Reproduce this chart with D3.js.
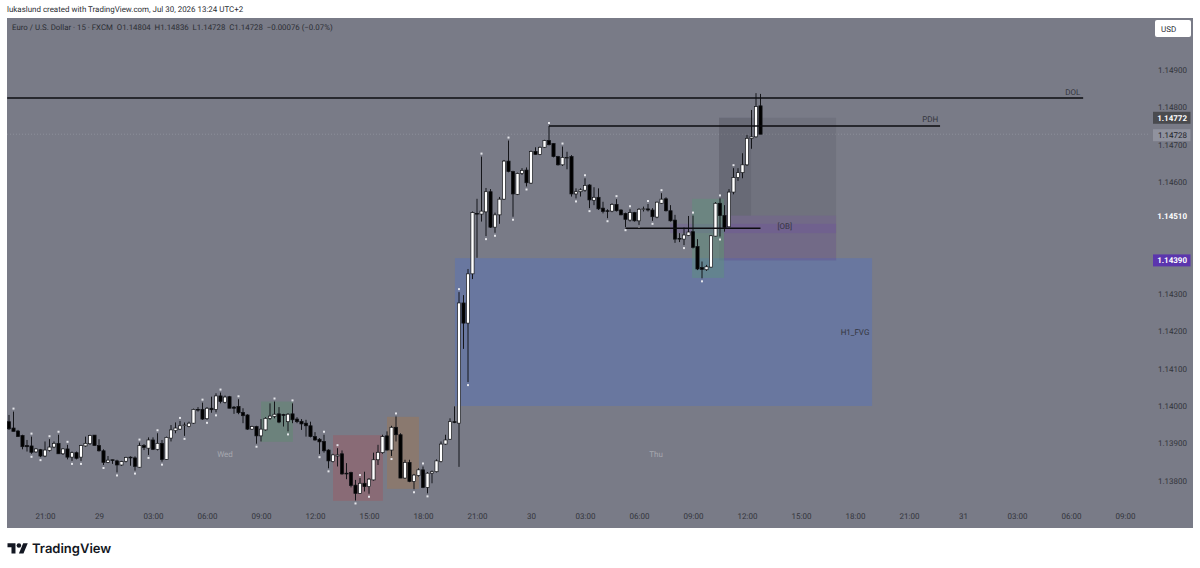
<!DOCTYPE html>
<html>
<head>
<meta charset="utf-8">
<script src="https://cdn.jsdelivr.net/npm/d3@7"></script>
<style>
	html, body { margin: 0; padding: 0; background: #ffffff; overflow: hidden; }
	svg { display: block; text-rendering: geometricPrecision; }
	text { font-family: Roboto, sans-serif; }
</style>
</head>
<body>
<svg id="chart" width="1200" height="568"></svg>
<script>
// EURUSD 15 min bars
const opens = [1.13958,1.13941,1.13933,1.13921,1.13894,1.13893,1.13877,1.13883,1.13866,1.13881,1.13890,1.13900,1.13872,1.13885,1.13863,1.13875,1.13863,1.13893,1.13899,1.13922,1.13894,1.13880,1.13849,1.13856,1.13853,1.13842,1.13852,1.13863,1.13861,1.13836,1.13894,1.13887,1.13909,1.13884,1.13900,1.13857,1.13914,1.13934,1.13938,1.13948,1.13945,1.13954,1.13991,1.13991,1.13966,1.13994,1.13991,1.14027,1.14010,1.14025,1.13997,1.13999,1.13983,1.13976,1.13938,1.13945,1.13920,1.13936,1.13967,1.13972,1.13979,1.13977,1.13958,1.13979,1.13965,1.13959,1.13954,1.13947,1.13918,1.13911,1.13905,1.13882,1.13851,1.13866,1.13872,1.13820,1.13822,1.13788,1.13766,1.13793,1.13784,1.13802,1.13856,1.13875,1.13920,1.13882,1.13943,1.13923,1.13807,1.13849,1.13798,1.13814,1.13829,1.13782,1.13820,1.13824,1.13851,1.13898,1.13911,1.13958,1.13954,1.14276,1.14222,1.14354,1.14516,1.14514,1.14520,1.14574,1.14479,1.14512,1.14554,1.14656,1.14628,1.14567,1.14623,1.14632,1.14597,1.14682,1.14674,1.14693,1.14711,1.14703,1.14668,1.14646,1.14664,1.14668,1.14568,1.14574,1.14578,1.14592,1.14551,1.14559,1.14530,1.14523,1.14522,1.14540,1.14525,1.14516,1.14498,1.14518,1.14496,1.14526,1.14528,1.14525,1.14506,1.14543,1.14555,1.14523,1.14498,1.14449,1.14447,1.14457,1.14467,1.14427,1.14371,1.14365,1.14372,1.14455,1.14543,1.14510,1.14480,1.14573,1.14612,1.14625,1.14646,1.14717,1.14721,1.14804];
const highs = [1.13976,1.13985,1.13936,1.13923,1.13909,1.13918,1.13887,1.13885,1.13905,1.13911,1.13905,1.13923,1.13887,1.13896,1.13878,1.13878,1.13896,1.13918,1.13923,1.13922,1.13911,1.13884,1.13866,1.13856,1.13856,1.13853,1.13864,1.13865,1.13865,1.13902,1.13898,1.13916,1.13916,1.13927,1.13909,1.13918,1.13949,1.13956,1.13960,1.13956,1.13958,1.13993,1.13997,1.14009,1.13997,1.14025,1.14034,1.14036,1.14028,1.14027,1.14000,1.14018,1.13994,1.13978,1.13947,1.13947,1.13965,1.13970,1.14007,1.14012,1.13997,1.13979,1.13981,1.14007,1.13970,1.13965,1.13963,1.13958,1.13930,1.13914,1.13923,1.13884,1.13872,1.13887,1.13881,1.13847,1.13824,1.13802,1.13807,1.13824,1.13807,1.13875,1.13896,1.13923,1.13932,1.13947,1.13972,1.13927,1.13856,1.13856,1.13818,1.13833,1.13838,1.13823,1.13827,1.13857,1.13905,1.13923,1.13967,1.13999,1.14305,1.14297,1.14367,1.14521,1.14555,1.14668,1.14584,1.14581,1.14518,1.14560,1.14659,1.14711,1.14630,1.14625,1.14637,1.14639,1.14684,1.14693,1.14695,1.14713,1.14750,1.14704,1.14670,1.14695,1.14681,1.14672,1.14583,1.14583,1.14610,1.14594,1.14586,1.14583,1.14547,1.14527,1.14543,1.14554,1.14527,1.14518,1.14527,1.14520,1.14530,1.14534,1.14541,1.14530,1.14547,1.14570,1.14559,1.14538,1.14512,1.14463,1.14478,1.14509,1.14510,1.14447,1.14387,1.14378,1.14458,1.14546,1.14556,1.14538,1.14581,1.14637,1.14637,1.14677,1.14726,1.14793,1.14838,1.14836];
const lows = [1.13936,1.13932,1.13918,1.13884,1.13878,1.13872,1.13875,1.13863,1.13863,1.13878,1.13887,1.13872,1.13869,1.13857,1.13853,1.13857,1.13853,1.13891,1.13896,1.13894,1.13878,1.13842,1.13847,1.13845,1.13822,1.13840,1.13849,1.13840,1.13827,1.13835,1.13882,1.13869,1.13882,1.13881,1.13851,1.13856,1.13905,1.13927,1.13936,1.13920,1.13943,1.13952,1.13985,1.13963,1.13963,1.13982,1.13983,1.14007,1.14007,1.13994,1.13979,1.13978,1.13954,1.13936,1.13936,1.13899,1.13905,1.13934,1.13963,1.13967,1.13954,1.13945,1.13932,1.13954,1.13954,1.13936,1.13918,1.13916,1.13907,1.13871,1.13875,1.13833,1.13849,1.13838,1.13816,1.13804,1.13782,1.13747,1.13765,1.13771,1.13765,1.13800,1.13842,1.13872,1.13881,1.13866,1.13905,1.13807,1.13805,1.13796,1.13777,1.13811,1.13780,1.13766,1.13793,1.13822,1.13849,1.13896,1.13909,1.13954,1.13837,1.14153,1.14064,1.14340,1.14397,1.14494,1.14455,1.14477,1.14464,1.14488,1.14552,1.14626,1.14507,1.14565,1.14619,1.14588,1.14595,1.14673,1.14672,1.14691,1.14698,1.14666,1.14644,1.14643,1.14634,1.14561,1.14556,1.14561,1.14574,1.14530,1.14538,1.14525,1.14516,1.14503,1.14519,1.14521,1.14511,1.14479,1.14494,1.14494,1.14485,1.14521,1.14521,1.14496,1.14503,1.14541,1.14521,1.14494,1.14437,1.14439,1.14431,1.14455,1.14422,1.14364,1.14342,1.14362,1.14371,1.14454,1.14454,1.14467,1.14479,1.14567,1.14603,1.14610,1.14643,1.14689,1.14719,1.14728];
const closes = [1.13939,1.13932,1.13918,1.13891,1.13891,1.13876,1.13885,1.13866,1.13882,1.13890,1.13900,1.13872,1.13885,1.13863,1.13875,1.13860,1.13894,1.13900,1.13921,1.13894,1.13880,1.13849,1.13855,1.13854,1.13842,1.13851,1.13862,1.13861,1.13838,1.13894,1.13889,1.13909,1.13884,1.13900,1.13857,1.13916,1.13936,1.13941,1.13947,1.13949,1.13954,1.13991,1.13989,1.13965,1.13994,1.13990,1.14027,1.14012,1.14024,1.13994,1.13994,1.13982,1.13974,1.13938,1.13945,1.13920,1.13938,1.13967,1.13973,1.13978,1.13957,1.13975,1.13978,1.13963,1.13958,1.13952,1.13947,1.13918,1.13909,1.13904,1.13880,1.13853,1.13869,1.13869,1.13818,1.13818,1.13787,1.13766,1.13793,1.13784,1.13804,1.13856,1.13876,1.13918,1.13882,1.13943,1.13923,1.13807,1.13849,1.13798,1.13815,1.13829,1.13782,1.13820,1.13824,1.13853,1.13898,1.13909,1.13958,1.13956,1.14276,1.14222,1.14354,1.14518,1.14514,1.14522,1.14574,1.14479,1.14512,1.14554,1.14656,1.14628,1.14568,1.14623,1.14631,1.14598,1.14682,1.14674,1.14693,1.14711,1.14700,1.14668,1.14646,1.14666,1.14666,1.14568,1.14574,1.14579,1.14591,1.14552,1.14559,1.14528,1.14521,1.14522,1.14540,1.14523,1.14512,1.14500,1.14518,1.14496,1.14527,1.14528,1.14525,1.14507,1.14546,1.14554,1.14523,1.14496,1.14447,1.14447,1.14458,1.14466,1.14425,1.14367,1.14366,1.14373,1.14456,1.14543,1.14510,1.14478,1.14573,1.14612,1.14625,1.14646,1.14717,1.14721,1.14802,1.14728];

// Bars that carry a small pivot dot
const pivotHighBars = [1,5,9,11,13,29,33,38,43,47,51,59,63,70,73,78,86,92,100,105,111,120,123,128,135,138,142,145,152,158,161];
const pivotLowBars = [5,7,14,16,21,24,28,31,34,39,44,46,55,62,69,71,77,80,85,90,93,102,106,108,112,115,126,129,133,137,140,143,150,154,158];

// Drawn boxes: start bar, end bar, top price, bottom price
const zoneNames = ["green1","red","orange","fvg","premium","premiumLeft","ob","obStrip","green2"];
const zoneStart = [56,72,84,99.1,157.8,157.8,158.9,146.9,151.8];
const zoneEnd = [63.1,83.1,91.1,191.8,183.8,164.9,183.8,183.8,158.9];
const zoneTop = [1.14012,1.13922,1.13971,1.14396,1.14772,1.14772,1.14510,1.14488,1.14555];
const zoneBottom = [1.13904,1.13746,1.13778,1.14000,1.14390,1.14510,1.14390,1.14463,1.14343];

// Horizontal levels
const levelNames = ["DOL","PDH","[OB]"];
const levelStart = [-0.4,120,137];
const levelEnd = [238.7,206.9,167];
const levelPrice = [1.14825,1.14750,1.14476];

const priceTicks = [1.149,1.148,1.147,1.146,1.143,1.142,1.141,1.140,1.139,1.138];
const timeTickBars = [8,20,32,44,56,68,80,92,104,116,128,140,152,164,176,188,200,212,224,236,248];
const timeTickLabels = ["21:00","29","03:00","06:00","09:00","12:00","15:00","18:00","21:00","30","03:00","06:00","09:00","12:00","15:00","18:00","21:00","31","03:00","06:00","09:00"];

const zoneColors = {
	green1: "rgba(90,140,110,0.42)", red: "rgba(165,80,90,0.36)", orange: "rgba(170,120,70,0.36)",
	fvg: "#69779f", premium: "rgba(40,42,50,0.1)", premiumLeft: "rgba(40,42,50,0.1)",
	ob: "rgba(125,60,190,0.15)", obStrip: "rgba(105,50,180,0.16)", green2: "rgba(90,150,120,0.4)"
};

const bgColor = "#797b87";
const textColor = "#33353c";
const smallFont = 8;

let svg = d3.select("#chart");

// Scales
const x = d3.scaleLinear().domain([0, 167]).range([9, 760.5]);
const y = d3.scaleLinear().domain([1.14, 1.149]).range([406, 70]);

// Header line
svg.append("text")
	.attr("x", 7).attr("y", 12)
	.attr("font-size", 7.95).attr("fill", "#2b2d33")
	.text("lukaslund created with TradingView.com, Jul 30, 2026 13:24 UTC+2");

// Pane background
svg.append("rect")
	.attr("x", 7).attr("y", 18).attr("width", 1186).attr("height", 510)
	.attr("fill", bgColor);

// Last price dotted line
svg.append("line")
	.attr("x1", 7).attr("x2", 1150)
	.attr("y1", y(closes[closes.length - 1])).attr("y2", y(closes[closes.length - 1]))
	.attr("stroke", "#8d8f9a").attr("stroke-width", 1).attr("stroke-dasharray", "1,2");

// Boxes
svg.append("g").selectAll("rect")
	.data(zoneNames)
	.join("rect")
		.attr("x", (d, i) => x(zoneStart[i]))
		.attr("y", (d, i) => y(zoneTop[i]))
		.attr("width", (d, i) => x(zoneEnd[i]) - x(zoneStart[i]))
		.attr("height", (d, i) => y(zoneBottom[i]) - y(zoneTop[i]))
		.attr("fill", d => zoneColors[d]);

// Candles
const bars = d3.range(opens.length);
let candles = svg.append("g");

candles.selectAll("line")
	.data(bars)
	.join("line")
		.attr("x1", i => x(i)).attr("x2", i => x(i))
		.attr("y1", i => y(highs[i])).attr("y2", i => y(lows[i]))
		.attr("stroke", "#15161a").attr("stroke-width", 1);

candles.selectAll("rect")
	.data(bars)
	.join("rect")
		.attr("x", i => x(i) - 1.6)
		.attr("width", 3.2)
		.attr("y", i => y(Math.max(opens[i], closes[i])))
		.attr("height", i => Math.max(0.6, Math.abs(y(opens[i]) - y(closes[i]))))
		.attr("fill", i => closes[i] >= opens[i] ? "#ffffff" : "#000000")
		.attr("stroke", "#111216").attr("stroke-width", 0.7);

// Pivot dots
svg.append("g").selectAll("rect")
	.data(pivotHighBars)
	.join("rect")
		.attr("x", i => x(i) - 1).attr("y", i => y(highs[i]) - 4)
		.attr("width", 2).attr("height", 2).attr("fill", "#e4e5ea");

svg.append("g").selectAll("rect")
	.data(pivotLowBars)
	.join("rect")
		.attr("x", i => x(i) - 1).attr("y", i => y(lows[i]) + 2)
		.attr("width", 2).attr("height", 2).attr("fill", "#e4e5ea");

// Levels
svg.append("g").selectAll("line")
	.data(levelNames)
	.join("line")
		.attr("x1", (d, i) => x(levelStart[i])).attr("x2", (d, i) => x(levelEnd[i]))
		.attr("y1", (d, i) => y(levelPrice[i])).attr("y2", (d, i) => y(levelPrice[i]))
		.attr("stroke", "#0c0c10").attr("stroke-width", 1.4);

// Labels on the chart
const chartLabels = [
	{ t: "DOL", bar: 236.4, p: 1.14834 },
	{ t: "PDH", bar: 204.7, p: 1.14760 },
	{ t: "[OB]", bar: 172.4, p: 1.14475 },
	{ t: "H1_FVG", bar: 188, p: 1.14189 }
];
svg.append("g").selectAll("text")
	.data(chartLabels)
	.join("text")
		.attr("x", d => x(d.bar)).attr("y", d => y(d.p))
		.attr("text-anchor", "middle")
		.attr("font-size", smallFont).attr("fill", "#34363d")
		.text(d => d.t);

const dayLabels = [{ t: "Wed", bar: 48 }, { t: "Thu", bar: 143.8 }];
svg.append("g").selectAll("text")
	.data(dayLabels)
	.join("text")
		.attr("x", d => x(d.bar)).attr("y", 457)
		.attr("text-anchor", "middle")
		.attr("font-size", smallFont).attr("fill", "#a6a8af")
		.text(d => d.t);

// Legend line
svg.append("text")
	.attr("x", 12).attr("y", 30)
	.attr("font-size", 7.85).attr("fill", "#2b2d33").attr("xml:space", "preserve")
	.text("Euro / U.S. Dollar · 15 · FXCM  O1.14804  H1.14836  L1.14728  C1.14728  −0.00076 (−0.07%)");

// Price axis
let yAxis = svg.append("g")
	.attr("transform", "translate(1187,0)")
	.call(d3.axisLeft(y).tickValues(priceTicks).tickFormat(d3.format(".5f")).tickSize(0).tickPadding(0));
yAxis.select(".domain").remove();
yAxis.selectAll("text")
	.style("font-family", "Roboto, sans-serif")
	.style("font-size", smallFont + "px")
	.style("fill", textColor);

// Time axis
let xAxis = svg.append("g")
	.attr("transform", "translate(0,513)")
	.call(d3.axisBottom(x).tickValues(timeTickBars).tickFormat((d, i) => timeTickLabels[i]).tickSize(0).tickPadding(0));
xAxis.select(".domain").remove();
xAxis.selectAll("text")
	.style("font-family", "Roboto, sans-serif")
	.style("font-size", smallFont + "px")
	.style("fill", textColor);

// Price tags on the axis
const priceTags = [
	{ p: 1.14772, bg: "#4a4b4f", fg: "#ffffff", w: "bold" },
	{ p: 1.14728, bg: "#90929e", fg: "#22242a", w: "normal" },
	{ p: 1.14510, bg: "none", fg: "#ffffff", w: "bold" },
	{ p: 1.14390, bg: "#5b35ad", fg: "#ffffff", w: "bold" }
];
let tags = svg.append("g").selectAll("g")
	.data(priceTags)
	.join("g")
		.attr("transform", d => "translate(0," + (y(d.p) + (d.p === 1.14728 ? 1 : 0)) + ")");
tags.append("rect")
	.attr("x", 1153).attr("y", -6).attr("width", 37.5).attr("height", 12)
	.attr("fill", d => d.bg);
tags.append("text")
	.attr("x", 1187).attr("y", 3)
	.attr("text-anchor", "end")
	.attr("font-size", smallFont)
	.attr("font-weight", d => d.w)
	.attr("fill", d => d.fg)
	.text(d => d3.format(".5f")(d.p));

// Currency button
svg.append("rect")
	.attr("x", 1155).attr("y", 20).attr("width", 36).attr("height", 17).attr("rx", 2)
	.attr("fill", "#ffffff");
svg.append("text")
	.attr("x", 1161).attr("y", 32)
	.attr("font-size", smallFont).attr("fill", "#2b2d33")
	.text("USD");

// TradingView logo
let logo = svg.append("g")
	.attr("transform", "translate(7.5,541) scale(0.57)")
	.attr("fill", "#131722");
logo.append("path").attr("d", "M14 22H7V11H0V4h14v18z");
logo.append("path").attr("d", "M28 22h-8l7.5-18h8L28 22z");
logo.append("circle").attr("cx", 20).attr("cy", 8).attr("r", 4);

svg.append("text")
	.attr("x", 32).attr("y", 553)
	.attr("font-size", 13).attr("font-weight", 600).attr("fill", "#131722")
	.style("font-family", "Inter, sans-serif")
	.text("TradingView");
</script>
</body>
</html>
